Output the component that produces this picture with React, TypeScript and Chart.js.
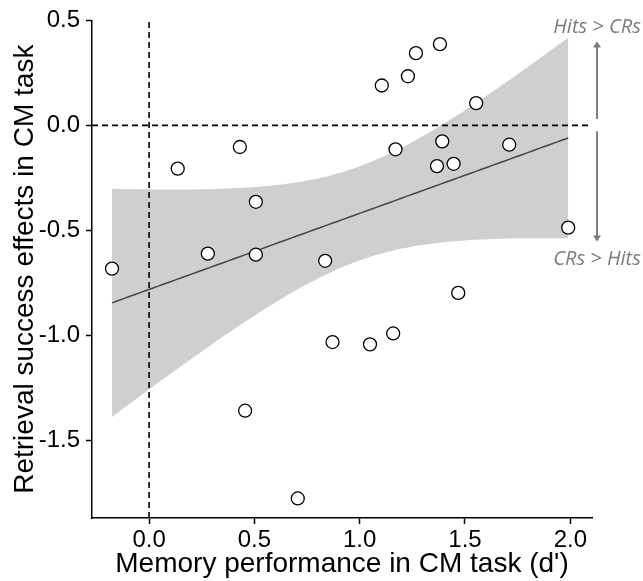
import { useEffect, useRef } from "react";
import { Chart, registerables } from "chart.js";

Chart.register(...registerables);

// Memory performance in CM task (d') per participant
const memoryDPrime = [
  -0.176, 0.136, 0.431, 0.507, 0.279, 0.507, 0.836, 0.456, 0.706, 0.871, 1.049, 1.159,
  1.105, 1.229, 1.267, 1.381, 1.553, 1.17, 1.392, 1.367, 1.446, 1.71, 1.99, 1.468,
];
// Retrieval success effects in CM task per participant
const retrievalEffect = [
  -0.682, -0.206, -0.103, -0.364, -0.611, -0.616, -0.645, -1.359, -1.777, -1.032, -1.043, -0.991,
  0.19, 0.234, 0.344, 0.387, 0.106, -0.114, -0.076, -0.194, -0.183, -0.092, -0.487, -0.798,
];

const xTickValues = [0, 0.5, 1.0, 1.5, 2.0];
const yTickValues = [-1.5, -1.0, -0.5, 0, 0.5];
const xRange = [-0.271, 2.103];
const yRange = [-1.87, 0.5];
const tCrit = 2.074; // t(0.975, df = 22), 95% CI of lm smooth
const smoothSteps = 80;

const xTitle = "Memory performance in CM task (d')";
const yTitle = "Retrieval success effects in CM task";
const upperNote = "Hits > CRs";
const lowerNote = "CRs > Hits";

function fitLinear(xs: number[], ys: number[]) {
  const n = xs.length;
  const mx = xs.reduce((a, b) => a + b, 0) / n;
  const my = ys.reduce((a, b) => a + b, 0) / n;
  let sxx = 0, sxy = 0;
  for (let i = 0; i < n; i++) {
    sxx += (xs[i] - mx) ** 2;
    sxy += (xs[i] - mx) * (ys[i] - my);
  }
  const b = sxy / sxx;
  const a = my - b * mx;
  let sse = 0;
  for (let i = 0; i < n; i++) sse += (ys[i] - a - b * xs[i]) ** 2;
  const s = Math.sqrt(sse / (n - 2));
  const lo = Math.min(...xs), hi = Math.max(...xs);
  const fit: { x: number; y: number }[] = [];
  const upper: { x: number; y: number }[] = [];
  const lower: { x: number; y: number }[] = [];
  for (let k = 0; k < smoothSteps; k++) {
    const x = lo + ((hi - lo) * k) / (smoothSteps - 1);
    const y = a + b * x;
    const se = s * Math.sqrt(1 / n + (x - mx) ** 2 / sxx);
    fit.push({ x, y });
    upper.push({ x, y: y + tCrit * se });
    lower.push({ x, y: y - tCrit * se });
  }
  return { fit, upper, lower };
}

const annotationPlugin = {
  id: "sideNotes",
  afterDraw(chart: any) {
    const { ctx, chartArea, scales } = chart;
    const y = scales.y;
    const cx = chartArea.right + 5;
    ctx.save();
    ctx.fillStyle = "#7c7c7c";
    ctx.strokeStyle = "#808080";
    ctx.font = 'italic 20px "Open Sans", sans-serif';
    ctx.textAlign = "center";
    ctx.textBaseline = "alphabetic";
    ctx.fillText(upperNote, cx, y.getPixelForValue(0.44));
    ctx.fillText(lowerNote, cx, y.getPixelForValue(-0.665));
    ctx.lineWidth = 2;
    const arrow = (y1: number, y2: number) => {
      const dir = y2 > y1 ? 1 : -1;
      ctx.beginPath();
      ctx.moveTo(cx, y1);
      ctx.lineTo(cx, y2 - dir * 5);
      ctx.stroke();
      ctx.beginPath();
      ctx.moveTo(cx, y2);
      ctx.lineTo(cx - 4, y2 - dir * 6);
      ctx.lineTo(cx + 4, y2 - dir * 6);
      ctx.closePath();
      ctx.fill();
    };
    arrow(y.getPixelForValue(0.03), y.getPixelForValue(0.40));
    arrow(y.getPixelForValue(-0.028), y.getPixelForValue(-0.553));
    ctx.restore();
  },
};

export default function App() {
  const ref = useRef<HTMLCanvasElement | null>(null);

  useEffect(() => {
    if (!ref.current) return;
    const { fit, upper, lower } = fitLinear(memoryDPrime, retrievalEffect);
    const points = memoryDPrime.map((x, i) => ({ x, y: retrievalEffect[i] }));
    const font = { family: '"Liberation Sans", Arial, sans-serif' };

    const chart = new Chart(ref.current, {
      type: "line",
      data: {
        datasets: [
          {
            type: "scatter",
            data: points,
            pointRadius: 6.5,
            pointBackgroundColor: "#ffffff",
            pointBorderColor: "#000000",
            pointBorderWidth: 1.3,
            showLine: false,
          } as any,
          {
            data: fit,
            borderColor: "#444444",
            borderWidth: 1.5,
            pointRadius: 0,
            fill: false,
          },
          {
            data: [
              { x: 0, y: yRange[0] },
              { x: 0, y: yRange[1] },
            ],
            borderColor: "#000000",
            borderWidth: 1.6,
            borderDash: [6, 4],
            pointRadius: 0,
            fill: false,
          },
          {
            data: [
              { x: xRange[0], y: 0 },
              { x: xRange[1], y: 0 },
            ],
            borderColor: "#000000",
            borderWidth: 1.6,
            borderDash: [6, 4],
            pointRadius: 0,
            fill: false,
          },
          {
            data: upper,
            borderWidth: 0,
            borderColor: "rgba(0,0,0,0)",
            backgroundColor: "#cfcfcf",
            pointRadius: 0,
            fill: "+1",
          },
          {
            data: lower,
            borderWidth: 0,
            borderColor: "rgba(0,0,0,0)",
            pointRadius: 0,
            fill: false,
          },
        ],
      },
      options: {
        responsive: false,
        animation: false,
        devicePixelRatio: 1,
        parsing: false as any,
        layout: { padding: { top: 18, right: 51, left: 0, bottom: 0 } },
        plugins: { legend: { display: false }, tooltip: { enabled: false } },
        scales: {
          x: {
            type: "linear",
            min: xRange[0],
            max: xRange[1],
            afterFit: (s: any) => {
              s.height = 63;
            },
            afterBuildTicks: (s: any) => {
              s.ticks = xTickValues.map((value) => ({ value }));
            },
            ticks: {
              color: "#000000",
              font: { ...font, size: 24 },
              padding: 2,
              maxRotation: 0,
              callback: (v: any) => Number(v).toFixed(1),
            },
            grid: {
              display: true,
              drawOnChartArea: false,
              tickLength: 6,
              tickColor: "#000000",
              tickWidth: 1.5,
            },
            border: { display: true, color: "#000000", width: 1.5 },
            title: {
              display: true,
              text: xTitle,
              color: "#000000",
              font: { ...font, size: 28 },
              padding: { top: 0, bottom: 0 },
            },
          },
          y: {
            type: "linear",
            min: yRange[0],
            max: yRange[1],
            afterFit: (s: any) => {
              s.width = 92;
            },
            afterBuildTicks: (s: any) => {
              s.ticks = yTickValues.map((value) => ({ value }));
            },
            ticks: {
              color: "#000000",
              font: { ...font, size: 24 },
              padding: 6,
              callback: (v: any) => Number(v).toFixed(1),
            },
            grid: {
              display: true,
              drawOnChartArea: false,
              tickLength: 6,
              tickColor: "#000000",
              tickWidth: 1.5,
            },
            border: { display: true, color: "#000000", width: 1.5 },
            title: {
              display: true,
              text: yTitle,
              color: "#000000",
              font: { ...font, size: 28 },
              padding: { top: 8, bottom: 0 },
            },
          },
        },
      },
      plugins: [annotationPlugin],
    } as any);

    return () => chart.destroy();
  }, []);

  return (
    <div style={{ position: "fixed", left: 0, top: 0, width: 643, height: 581, background: "#ffffff" }}>
      <canvas ref={ref} width={643} height={581} style={{ display: "block" }} />
    </div>
  );
}
